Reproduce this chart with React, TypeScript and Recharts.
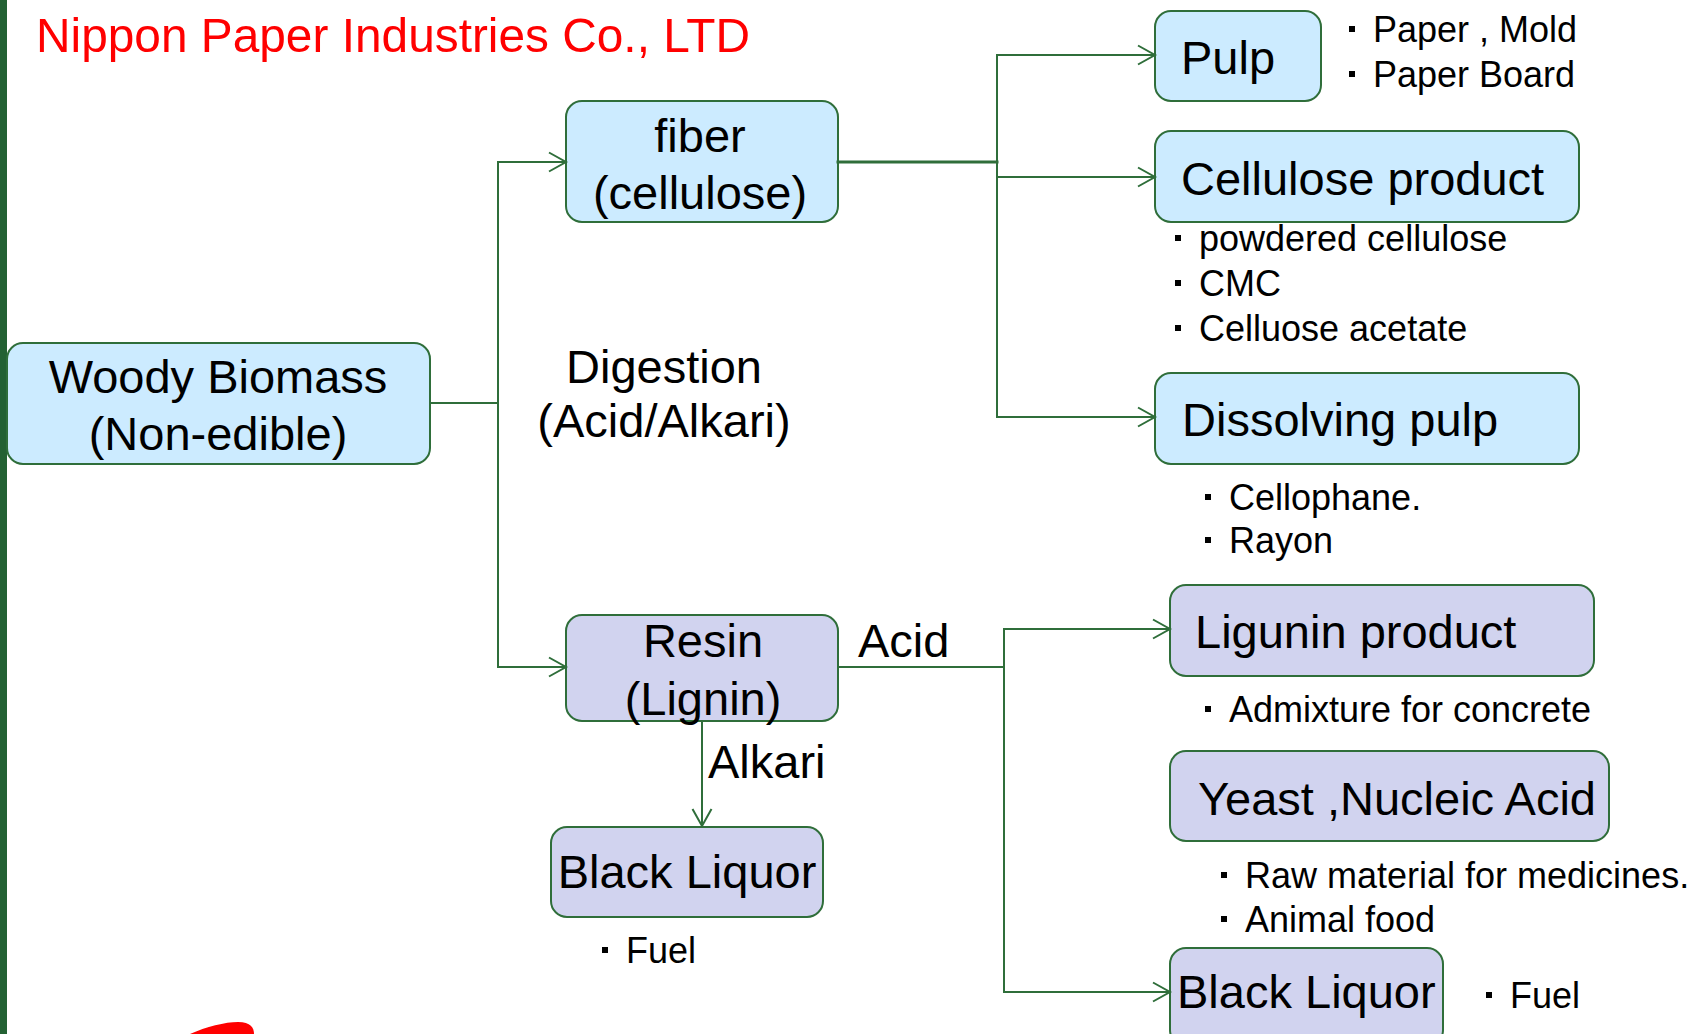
import React from "react";
import {
  ComposedChart,
  ReferenceArea,
  ReferenceLine,
  Scatter,
  XAxis,
  YAxis,
} from "recharts";

const WIDTH = 1704;
const HEIGHT = 1034;

const BLUE_FILL = "#CCEBFF";
const LILAC_FILL = "#D1D3EF";
const GREEN = "#2F6E3A";
const BAR_GREEN = "#236133";
const TITLE_RED = "#FF0000";
const FONT = '"Liberation Sans", Arial, sans-serif';

const TITLE = "Nippon Paper Industries Co., LTD";

// text of the boxes
const nodeText = [
  ["Woody Biomass", "(Non-edible)"],
  ["fiber", "(cellulose)"],
  ["Pulp"],
  ["Cellulose product"],
  ["Dissolving pulp"],
  ["Resin", "(Lignin)"],
  ["Black Liquor"],
  ["Ligunin product"],
  ["Yeast ,Nucleic Acid"],
  ["Black Liquor"],
];
const nodeGroup = ["cell", "cell", "cell", "cell", "cell", "lig", "lig", "lig", "lig", "lig"];

// labels on the process arrows
const processText = [["Digestion", "(Acid/Alkari)"], ["Acid"], ["Alkari"]];

// bullet lists of uses
const useText = [
  ["Paper , Mold", "Paper Board"],
  ["powdered cellulose", "CMC", "Celluose acetate"],
  ["Cellophane.", "Rayon"],
  ["Fuel"],
  ["Admixture for concrete"],
  ["Raw material for medicines.", "Animal food"],
  ["Fuel"],
];

// layout, in diagram units (one unit = one page pixel)
const nodeBox = [
  [7, 430, 343, 464],
  [566, 838, 101, 222],
  [1155, 1321, 11, 101],
  [1155, 1579, 131, 222],
  [1155, 1579, 373, 464],
  [566, 838, 615, 721],
  [551, 823, 827, 917],
  [1170, 1594, 585, 676],
  [1170, 1609, 751, 841],
  [1170, 1443, 948, 1046],
];
// x, first baseline, line step, anchor
const nodeTextPos: [number, number, number, string][] = [
  [218, 393, 57, "middle"],
  [700, 152, 57, "middle"],
  [1181, 74, 0, "start"],
  [1181, 195, 0, "start"],
  [1182, 436, 0, "start"],
  [703, 657, 58, "middle"],
  [687, 888, 0, "middle"],
  [1195, 648, 0, "start"],
  [1198, 815, 0, "start"],
  [1177, 1008, 0, "start"],
];
const processPos: [number, number, number, string][] = [
  [664, 383, 54, "middle"],
  [858, 657, 0, "start"],
  [708, 778, 0, "start"],
];
const usePos = [
  [1373, 42, 45],
  [1199, 251, 45],
  [1229, 510, 43],
  [626, 963, 0],
  [1229, 722, 0],
  [1245, 888, 44],
  [1510, 1008, 0],
];

// connectors: x1, y1, x2, y2, arrow head, stroke width
const links = [
  [430, 403, 498, 403, 0, 2],
  [498, 162, 498, 667, 0, 2],
  [498, 162, 566, 162, 1, 2],
  [498, 667, 566, 667, 1, 2],
  [838, 162, 997, 162, 0, 3],
  [997, 55, 997, 417, 0, 2],
  [997, 55, 1155, 55, 1, 2],
  [997, 177, 1155, 177, 1, 2],
  [997, 417, 1155, 417, 1, 2],
  [838, 667, 1004, 667, 0, 2],
  [1004, 629, 1004, 992, 0, 2],
  [1004, 629, 1170, 629, 1, 2],
  [1004, 992, 1170, 992, 1, 2],
  [702, 721, 702, 826, 1, 2],
];

type LabelRow = {
  x: number;
  y: number;
  text: string;
  kind: "title" | "node" | "bullet";
  anchor: string;
};

const labelRows: LabelRow[] = [
  { x: 36, y: 52, text: TITLE, kind: "title", anchor: "start" },
];
nodeText.forEach((lines, i) => {
  const [x, y0, step, anchor] = nodeTextPos[i];
  lines.forEach((t, j) => labelRows.push({ x, y: y0 + j * step, text: t, kind: "node", anchor }));
});
processText.forEach((lines, i) => {
  const [x, y0, step, anchor] = processPos[i];
  lines.forEach((t, j) => labelRows.push({ x, y: y0 + j * step, text: t, kind: "node", anchor }));
});
useText.forEach((lines, i) => {
  const [x, y0, step] = usePos[i];
  lines.forEach((t, j) => labelRows.push({ x, y: y0 + j * step, text: t, kind: "bullet", anchor: "start" }));
});

function renderLabel(props: any) {
  const { cx, cy, payload } = props;
  if (payload.kind === "title") {
    return (
      <text
        x={cx}
        y={cy}
        fill={TITLE_RED}
        fontFamily={FONT}
        fontSize={49}
        textLength={714}
        lengthAdjust="spacingAndGlyphs"
      >
        {payload.text}
      </text>
    );
  }
  if (payload.kind === "bullet") {
    // square list marker, like the original's "・"
    return (
      <g>
        <rect x={cx - 24} y={cy - 16} width={6} height={6} fill="#000" />
        <text x={cx} y={cy} fill="#000" fontFamily={FONT} fontSize={36}>
          {payload.text}
        </text>
      </g>
    );
  }
  return (
    <text x={cx} y={cy} textAnchor={payload.anchor} fill="#000" fontFamily={FONT} fontSize={47}>
      {payload.text}
    </text>
  );
}

const roundBox = (fill: string) => (p: any) => (
  <rect
    x={p.x}
    y={p.y}
    width={p.width}
    height={p.height}
    rx={16}
    ry={16}
    fill={fill}
    stroke={GREEN}
    strokeWidth={2}
  />
);

const connector = (head: boolean, width: number) => (p: any) => {
  const { x1, y1, x2, y2 } = p;
  const len = Math.hypot(x2 - x1, y2 - y1) || 1;
  const ux = (x2 - x1) / len;
  const uy = (y2 - y1) / len;
  const L = 17;
  const H = 9.5;
  const pts = `${x2 - L * ux - H * uy},${y2 - L * uy + H * ux} ${x2},${y2} ${x2 - L * ux + H * uy},${y2 - L * uy - H * ux}`;
  return (
    <g>
      <line x1={x1} y1={y1} x2={x2} y2={y2} stroke={GREEN} strokeWidth={width} strokeLinecap="square" />
      {head ? <polyline points={pts} fill="none" stroke={GREEN} strokeWidth={2} /> : null}
    </g>
  );
};

const redBlob = (p: any) => {
  const { x, y, width, height } = p;
  const d = `M${x},${y + height} C${x + width * 0.25},${y + height * 0.4} ${x + width * 0.55},${y} ${x + width * 0.75},${y} C${x + width * 0.95},${y} ${x + width},${y + height * 0.5} ${x + width},${y + height} Z`;
  return <path d={d} fill={TITLE_RED} />;
};

export default function App() {
  return (
    <div style={{ position: "absolute", left: 0, top: 0, width: WIDTH, height: HEIGHT, background: "#fff" }}>
      <ComposedChart width={WIDTH} height={HEIGHT} data={labelRows} margin={{ top: 0, right: 0, bottom: 0, left: 0 }}>
        <XAxis type="number" dataKey="x" domain={[0, WIDTH]} allowDataOverflow hide />
        <YAxis type="number" dataKey="y" domain={[0, HEIGHT]} allowDataOverflow reversed hide />

        <ReferenceArea x1={0} x2={7} y1={0} y2={HEIGHT} fill={BAR_GREEN} fillOpacity={1} stroke="none" ifOverflow="visible" />
        <ReferenceArea x1={190} x2={254} y1={1022} y2={1034} ifOverflow="visible" shape={redBlob} />

        {links.map(([x1, y1, x2, y2, head, w], i) => (
          <ReferenceLine
            key={`l${i}`}
            segment={[
              { x: x1, y: y1 },
              { x: x2, y: y2 },
            ]}
            ifOverflow="visible"
            shape={connector(head === 1, w)}
          />
        ))}

        {nodeBox.map(([x0, x1, y0, y1], i) => (
          <ReferenceArea
            key={`n${i}`}
            x1={x0}
            x2={x1}
            y1={y0}
            y2={y1}
            ifOverflow="visible"
            shape={roundBox(nodeGroup[i] === "cell" ? BLUE_FILL : LILAC_FILL)}
          />
        ))}

        <Scatter data={labelRows} dataKey="y" shape={renderLabel} isAnimationActive={false} />
      </ComposedChart>
    </div>
  );
}
